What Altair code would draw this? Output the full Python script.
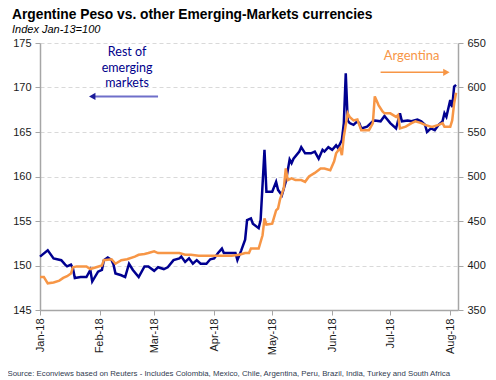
import altair as alt
import pandas as pd

# ---------------- data ----------------
em_dates = ["2018-01-01","2018-01-05","2018-01-08","2018-01-12","2018-01-14","2018-01-15","2018-01-17","2018-01-18",
            "2018-01-19","2018-01-22","2018-01-25","2018-01-27","2018-01-28","2018-01-31","2018-02-02","2018-02-03",
            "2018-02-05","2018-02-07","2018-02-08","2018-02-09","2018-02-12","2018-02-14","2018-02-16","2018-02-18",
            "2018-02-21","2018-02-24","2018-02-26","2018-03-01","2018-03-03","2018-03-06","2018-03-08","2018-03-11",
            "2018-03-14","2018-03-15","2018-03-17","2018-03-19","2018-03-21","2018-03-23","2018-03-25","2018-03-28",
            "2018-03-30","2018-04-01","2018-04-03","2018-04-05","2018-04-06","2018-04-09","2018-04-12","2018-04-13",
            "2018-04-15","2018-04-17","2018-04-18","2018-04-20","2018-04-21","2018-04-24","2018-04-25","2018-04-27",
            "2018-04-28","2018-05-01","2018-05-03","2018-05-04","2018-05-06","2018-05-08","2018-05-10","2018-05-11",
            "2018-05-12","2018-05-15","2018-05-16","2018-05-18","2018-05-21","2018-05-23","2018-05-25","2018-05-27",
            "2018-05-28","2018-05-30","2018-06-01","2018-06-03","2018-06-04","2018-06-06","2018-06-07","2018-06-08",
            "2018-06-09","2018-06-10","2018-06-12","2018-06-14","2018-06-15","2018-06-16","2018-06-19","2018-06-22",
            "2018-06-23","2018-06-26","2018-06-28","2018-07-01","2018-07-04","2018-07-06","2018-07-07","2018-07-10",
            "2018-07-12","2018-07-15","2018-07-17","2018-07-19","2018-07-20","2018-07-22","2018-07-24","2018-07-26",
            "2018-07-28","2018-07-29","2018-07-30","2018-08-01","2018-08-02","2018-08-03","2018-08-04"]
em_values = [151.0,151.7,150.8,150.6,150.1,149.9,150.1,149.7,
             148.6,148.7,148.7,149.5,148.2,149.3,149.5,150.6,
             150.9,150.6,150.1,149.1,148.9,148.7,150.2,149.5,
             148.7,149.9,149.9,149.4,149.8,149.6,149.8,150.6,
             150.8,151.0,150.4,150.8,150.2,150.6,150.2,150.2,
             150.7,150.8,151.4,151.9,151.4,151.4,151.4,150.6,
             151.7,152.9,155.1,155.3,154.7,154.2,155.1,163.0,
             158.3,158.3,159.4,158.5,157.9,159.4,161.9,161.5,
             162.0,162.8,163.3,162.6,162.6,162.8,162.0,163.0,
             162.8,163.3,163.0,163.5,163.2,164.1,166.0,171.6,
             166.3,166.0,165.8,166.2,166.0,165.4,165.6,166.2,
             166.3,166.2,166.8,166.0,165.4,167.1,166.2,166.3,
             166.2,166.4,166.2,165.8,165.0,165.4,165.2,165.8,
             166.2,167.1,166.7,168.6,167.8,170.1,170.3]

arg_dates = ["2018-01-01","2018-01-03","2018-01-05","2018-01-08","2018-01-11","2018-01-13","2018-01-15","2018-01-17",
             "2018-01-18","2018-01-20","2018-01-23","2018-01-25","2018-01-27","2018-01-30","2018-02-02","2018-02-03",
             "2018-02-07","2018-02-09","2018-02-12","2018-02-15","2018-02-19","2018-02-21","2018-02-24","2018-02-26",
             "2018-03-01","2018-03-03","2018-03-07","2018-03-10","2018-03-14","2018-03-17","2018-03-20","2018-03-24",
             "2018-03-27","2018-03-30","2018-04-03","2018-04-07","2018-04-10","2018-04-14","2018-04-17","2018-04-19",
             "2018-04-20","2018-04-24","2018-04-26","2018-04-27","2018-04-28","2018-05-01","2018-05-03","2018-05-04",
             "2018-05-05","2018-05-07","2018-05-08","2018-05-09","2018-05-11","2018-05-13","2018-05-16","2018-05-18",
             "2018-05-20","2018-05-23","2018-05-26","2018-05-28","2018-05-31","2018-06-02","2018-06-03","2018-06-05",
             "2018-06-06","2018-06-07","2018-06-09","2018-06-10","2018-06-12","2018-06-14","2018-06-16","2018-06-18",
             "2018-06-20","2018-06-22","2018-06-23","2018-06-25","2018-06-27","2018-06-28","2018-07-01","2018-07-04",
             "2018-07-05","2018-07-06","2018-07-09","2018-07-12","2018-07-14","2018-07-17","2018-07-19","2018-07-22",
             "2018-07-23","2018-07-26","2018-07-28","2018-07-29","2018-08-01","2018-08-02","2018-08-03","2018-08-04"]
arg_values = [387,387,380,381,383,386,388,391,
              398,399,399,399,396,398,400,406,
              407,402,406,407,410,412,413,414,
              416,414,414,414,414,412,412,411,
              411,411,411,411,411,412,414,414,
              419,419,434,453,446,447,462,464,
              474,487,509,496,498,496,496,494,
              500,504,509,509,507,517,526,532,
              524,545,571,567,563,564,552,552,
              552,560,590,580,573,571,571,567,
              569,554,556,560,562,560,558,556,
              556,558,560,556,556,563,582,594]

left_ticks = [145, 150, 155, 160, 165, 170, 175]
right_ticks = [350, 400, 450, 500, 550, 600, 650]

em_label_lines = ["Rest of", "emerging", "markets"]
em_label_dates = ["2018-02-15", "2018-02-15", "2018-02-15"]
em_label_values = [174.0, 172.2, 170.5]
em_arrow_dates = ["2018-01-28", "2018-03-03"]
em_arrow_value = 169.0

arg_label = ["Argentina"]
arg_label_dates = ["2018-07-12"]
arg_label_values = [635]
arg_arrow_dates = ["2018-06-26", "2018-07-30"]
arg_arrow_value = 617

title_text = "Argentine Peso vs. other Emerging-Markets currencies"
subtitle_text = "Index Jan-13=100"
source_text = ("Source: Econviews based on Reuters - Includes Colombia, Mexico, Chile, Argentina, "
               "Peru, Brazil, India, Turkey and South Africa")

# ---------------- tables ----------------
em_df = pd.DataFrame({"date": pd.to_datetime(em_dates), "value": em_values})
arg_df = pd.DataFrame({"date": pd.to_datetime(arg_dates), "value": arg_values})
em_lbl_df = pd.DataFrame({"date": pd.to_datetime(em_label_dates), "value": em_label_values, "label": em_label_lines})
em_arr_df = pd.DataFrame({"date": pd.to_datetime([em_arrow_dates[0]]), "date2": pd.to_datetime([em_arrow_dates[1]]),
                          "value": [em_arrow_value]})
arg_lbl_df = pd.DataFrame({"date": pd.to_datetime(arg_label_dates), "value": arg_label_values, "label": arg_label})
arg_arr_df = pd.DataFrame({"date": pd.to_datetime([arg_arrow_dates[0]]), "date2": pd.to_datetime([arg_arrow_dates[1]]),
                           "value": [arg_arrow_value]})

FONT = "Liberation Sans"
AXIS_GRAY = "#a6a6a6"
LABEL_COLOR = "#1a1a1a"
BLUE = "#000090"
ORANGE = "#F79646"

x_scale = alt.Scale(domain=[alt.DateTime(year=2018, month=1, date=1), alt.DateTime(year=2018, month=8, date=5)])
left_scale = alt.Scale(domain=[145, 175], nice=False, zero=False)
right_scale = alt.Scale(domain=[350, 650], nice=False, zero=False)

x_axis = alt.Axis(format="%b-%y", labelAngle=270, tickCount={"interval": "month", "step": 1},
                  grid=False, domainColor=AXIS_GRAY, domainWidth=1.5, tickColor=AXIS_GRAY, tickSize=5,
                  labelFont=FONT, labelFontSize=11, labelColor=LABEL_COLOR, labelPadding=3,
                  title=source_text, titleFont=FONT, titleFontSize=7.8, titleFontWeight="normal",
                  titleColor="#2f3b4f", titleAlign="left", titleX=-33, titleY=63, titleBaseline="middle")
left_axis = alt.Axis(values=left_ticks, orient="left", title=None, grid=True, gridColor="#d9d9d9",
                     gridDash=[4, 3], gridWidth=1, domainColor=AXIS_GRAY, domainWidth=1.5,
                     tickColor=AXIS_GRAY, tickSize=5, labelFont=FONT, labelFontSize=11,
                     labelColor=LABEL_COLOR, labelPadding=4)
right_axis = alt.Axis(values=right_ticks, orient="right", title=None, grid=False, domainColor=AXIS_GRAY,
                      domainWidth=1.5, tickColor=AXIS_GRAY, tickSize=5, labelFont=FONT, labelFontSize=11,
                      labelColor=LABEL_COLOR, labelPadding=4)

X = alt.X("date:T", scale=x_scale, axis=x_axis)
YL = alt.Y("value:Q", scale=left_scale, axis=left_axis)
YR = alt.Y("value:Q", scale=right_scale, axis=right_axis)

em_line = alt.Chart(em_df).mark_line(color=BLUE, strokeWidth=2.5).encode(x=X, y=YL)
em_text = alt.Chart(em_lbl_df).mark_text(color="#00008B", font="Lato", fontSize=12.5).encode(
    x=X, y=YL, text="label:N")
em_rule = alt.Chart(em_arr_df).mark_rule(color="#6f6fc9", strokeWidth=2).encode(x=X, x2="date2:T", y=YL)
em_head = alt.Chart(em_arr_df).mark_point(shape="triangle-left", filled=True, size=55, opacity=1,
                                          color="#1c1c9a").encode(x=X, y=YL)
left_group = alt.layer(em_line, em_text, em_rule, em_head)

arg_line = alt.Chart(arg_df).mark_line(color=ORANGE, strokeWidth=2.5).encode(x=X, y=YR)
arg_text = alt.Chart(arg_lbl_df).mark_text(color=ORANGE, font="Lato", fontSize=13).encode(
    x=X, y=YR, text="label:N")
arg_rule = alt.Chart(arg_arr_df).mark_rule(color=ORANGE, strokeWidth=1.5).encode(x=X, x2="date2:T", y=YR)
arg_head = alt.Chart(arg_arr_df).mark_point(shape="triangle-right", filled=True, size=55, opacity=1,
                                            color=ORANGE).encode(
    x=alt.X("date2:T", scale=x_scale, axis=x_axis), y=YR)
right_group = alt.layer(arg_line, arg_text, arg_rule, arg_head)

chart = alt.layer(left_group, right_group).resolve_scale(y="independent").properties(
    width=418,
    height=267,
    background="white",
    autosize=alt.AutoSizeParams(type="none"),
    padding={"left": 32, "top": 35, "right": 30, "bottom": 72},
    title=alt.TitleParams(text=title_text, subtitle=subtitle_text, anchor="start", frame="group",
                          dx=-28, dy=6, offset=8,
                          font=FONT, fontSize=13.8, fontWeight="bold", color="#000000",
                          subtitleFont=FONT, subtitleFontSize=11, subtitleFontStyle="italic",
                          subtitleColor="#000000", subtitlePadding=2),
).configure_view(strokeWidth=0)

chart.save("out.html", embed_options={"renderer": "svg", "actions": False})
